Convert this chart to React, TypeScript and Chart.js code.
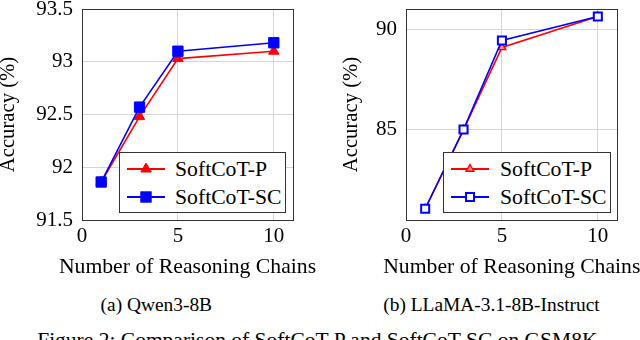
import React, { useEffect, useRef } from 'react';
import { Chart, registerables } from 'chart.js';

Chart.register(...registerables);

// ---- data ----
const chains = [1, 3, 5, 10];
const xTicks = [0, 5, 10];
const qwenP = [91.86, 92.48, 93.03, 93.1];
const qwenSC = [91.86, 92.57, 93.1, 93.18];
const qwenYTicks = [91.5, 92, 92.5, 93, 93.5];
const llamaP = [81.06, 85.0, 89.09, 90.63];
const llamaSC = [81.06, 85.0, 89.43, 90.63];
const llamaYTicks = [85, 90];
const seriesNames = ['SoftCoT-P', 'SoftCoT-SC'];
const xTitle = 'Number of Reasoning Chains';
const yTitle = 'Accuracy (%)';
const subCaptions = ['(a) Qwen3-8B', '(b) LLaMA-3.1-8B-Instruct'];
const figCaption = 'Figure 2: Comparison of SoftCoT-P and SoftCoT-SC on GSM8K.';

const FONT = '"Liberation Serif", "Times New Roman", Tinos, FreeSerif, serif';
const RED = '#ff0000';
const BLUE = '#0000ff';
const FRAME = '#333333';
const GRID = '#d6d6d6';

const framePlugin = {
  id: 'frame',
  beforeDatasetsDraw(chart: any) {
    const { ctx, chartArea } = chart;
    const l = Math.round(chartArea.left) + 0.5;
    const t = Math.round(chartArea.top) + 0.5;
    const r = Math.round(chartArea.right) + 0.5;
    const b = Math.round(chartArea.bottom) + 0.5;
    ctx.save();
    ctx.strokeStyle = FRAME;
    ctx.lineWidth = 1;
    ctx.strokeRect(l, t, r - l, b - t);
    ctx.restore();
  },
};

type PanelProps = {
  left: number;
  width: number;
  yMin: number;
  yMax: number;
  yTicks: number[];
  p: number[];
  sc: number[];
  yWidth: number;
  rightPad: number;
  open: boolean;
};

function Panel(props: PanelProps) {
  const ref = useRef<HTMLCanvasElement | null>(null);
  const H = 300;
  useEffect(() => {
    if (!ref.current) return;
    const { yMin, yMax, yTicks, p, sc, yWidth, rightPad, open } = props;
    const chart = new Chart(ref.current, {
      type: 'line',
      data: {
        datasets: [
          {
            label: seriesNames[0],
            data: chains.map((x, i) => ({ x, y: p[i] })),
            borderColor: RED,
            backgroundColor: RED,
            borderWidth: 1.6,
            pointStyle: 'triangle',
            pointRadius: open ? 4.5 : 6,
            pointBackgroundColor: open ? '#ff8c8c' : RED,
            pointBorderColor: RED,
            pointBorderWidth: open ? 1.4 : 1,
            tension: 0,
            order: 1,
          },
          {
            label: seriesNames[1],
            data: chains.map((x, i) => ({ x, y: sc[i] })),
            borderColor: BLUE,
            backgroundColor: BLUE,
            borderWidth: 1.6,
            pointStyle: 'rect',
            pointRadius: open ? 5.7 : 7.3,
            pointBackgroundColor: open ? '#ffffff' : BLUE,
            pointBorderColor: BLUE,
            pointBorderWidth: open ? 2 : 1,
            tension: 0,
            order: 0,
          },
        ],
      },
      options: {
        animation: false,
        responsive: false,
        devicePixelRatio: 1,
        layout: { padding: { top: 29, right: rightPad, bottom: 3, left: 0 } },
        plugins: { legend: { display: false }, tooltip: { enabled: false } },
        scales: {
          x: {
            type: 'linear',
            min: 0,
            max: 11,
            afterBuildTicks: (s: any) => {
              s.ticks = xTicks.map((v) => ({ value: v }));
            },
            afterFit: (s: any) => {
              s.height = 57;
            },
            ticks: {
              color: '#000',
              font: { family: FONT, size: 21, lineHeight: 1 },
              padding: 6,
              maxRotation: 0,
              autoSkip: false,
              callback: (v: any) => String(v),
            },
            grid: { color: GRID, lineWidth: 1, drawTicks: false },
            border: { display: false },
            title: { display: false },
          },
          y: {
            type: 'linear',
            min: yMin,
            max: yMax,
            afterBuildTicks: (s: any) => {
              s.ticks = yTicks.map((v) => ({ value: v }));
            },
            afterFit: (s: any) => {
              s.width = yWidth;
            },
            ticks: {
              color: '#000',
              font: { family: FONT, size: 21, lineHeight: 1 },
              padding: 9,
              autoSkip: false,
              callback: (v: any) => String(v),
            },
            grid: { color: GRID, lineWidth: 1, drawTicks: false },
            border: { display: false },
            title: {
              display: true,
              text: yTitle,
              color: '#000',
              font: { family: FONT, size: 20.7, lineHeight: 1 },
              padding: { top: 0.5, bottom: 0 },
            },
          },
        },
      },
      plugins: [framePlugin],
    } as any);
    return () => chart.destroy();
  }, []);
  return (
    <canvas
      ref={ref}
      width={props.width}
      height={H}
      style={{ position: 'absolute', left: props.left, top: -20, width: props.width, height: H }}
    />
  );
}

function Marker({ kind, open, cx, cy }: { kind: 'tri' | 'sq'; open: boolean; cx: number; cy: number }) {
  if (kind === 'tri') {
    const r = open ? 4.5 : 6;
    const pts = [
      [cx, cy - r],
      [cx + r * 0.866, cy + r * 0.5],
      [cx - r * 0.866, cy + r * 0.5],
    ]
      .map((q) => q.join(','))
      .join(' ');
    return (
      <polygon
        points={pts}
        fill={open ? '#ff8c8c' : RED}
        stroke={RED}
        strokeWidth={open ? 1.4 : 1}
      />
    );
  }
  const r = open ? 5.7 : 7.3;
  const h = r * Math.SQRT1_2;
  return (
    <rect
      x={cx - h}
      y={cy - h}
      width={2 * h}
      height={2 * h}
      fill={open ? '#fff' : BLUE}
      stroke={BLUE}
      strokeWidth={open ? 2 : 1}
    />
  );
}

function Legend({ left, width, textLeft, open }: { left: number; width: number; textLeft: number; open: boolean }) {
  const rows = [
    { name: seriesNames[0], color: RED, kind: 'tri' as const, cy: 16.5 },
    { name: seriesNames[1], color: BLUE, kind: 'sq' as const, cy: 44.5 },
  ];
  return (
    <div
      style={{
        position: 'absolute',
        left,
        top: 152,
        width,
        height: 61,
        boxSizing: 'border-box',
        border: `1px solid ${FRAME}`,
        background: '#fff',
      }}
    >
      {rows.map((r) => (
        <div key={r.name} style={{ position: 'absolute', left: 0, top: r.cy - 13, height: 24, width: '100%' }}>
          <svg width={40} height={24} style={{ position: 'absolute', left: 6, top: 0 }}>
            <line x1={1} y1={12} x2={39} y2={12} stroke={r.color} strokeWidth={1.8} />
            <Marker kind={r.kind} open={open} cx={20} cy={12} />
          </svg>
          <span
            style={{
              position: 'absolute',
              left: textLeft - 1,
              top: 0,
              fontFamily: FONT,
              fontSize: 21.7,
              lineHeight: '24px',
              whiteSpace: 'nowrap',
              color: '#000',
            }}
          >
            {r.name}
          </span>
        </div>
      ))}
    </div>
  );
}

export default function App() {
  const textBase: React.CSSProperties = {
    position: 'absolute',
    width: 300,
    textAlign: 'center',
    fontFamily: FONT,
    lineHeight: '24px',
    whiteSpace: 'nowrap',
    color: '#000',
  };
  return (
    <div
      style={{
        position: 'absolute',
        left: 0,
        top: 0,
        width: 640,
        height: 340,
        overflow: 'hidden',
        background: '#fff',
        fontFamily: FONT,
      }}
    >
      <Panel left={-2} width={322} yMin={91.5} yMax={93.5} yTicks={qwenYTicks} p={qwenP} sc={qwenSC} yWidth={84} rightPad={27} open={false} />
      <Panel left={341} width={310} yMin={80.5} yMax={91} yTicks={llamaYTicks} p={llamaP} sc={llamaSC} yWidth={65} rightPad={34} open={true} />
      <Legend left={119} width={167} textLeft={56} open={false} />
      <Legend left={443} width={168} textLeft={57} open={true} />
      <div style={{ ...textBase, top: 254, left: 187.5 - 150, fontSize: 21.7 }}>{xTitle}</div>
      <div style={{ ...textBase, top: 254, left: 511.8 - 150, fontSize: 21.7 }}>{xTitle}</div>
      <div style={{ ...textBase, top: 292.5, left: 156.3 - 150, fontSize: 19.4 }}>{subCaptions[0]}</div>
      <div style={{ ...textBase, top: 292.5, left: 491.5 - 150, fontSize: 19.4 }}>{subCaptions[1]}</div>
      <div
        style={{
          position: 'absolute',
          left: 0,
          width: 640,
          top: 328,
          textAlign: 'center',
          fontFamily: FONT,
          fontSize: 21.5,
          lineHeight: '24px',
          whiteSpace: 'nowrap',
          color: '#000',
        }}
      >
        {figCaption}
      </div>
    </div>
  );
}
